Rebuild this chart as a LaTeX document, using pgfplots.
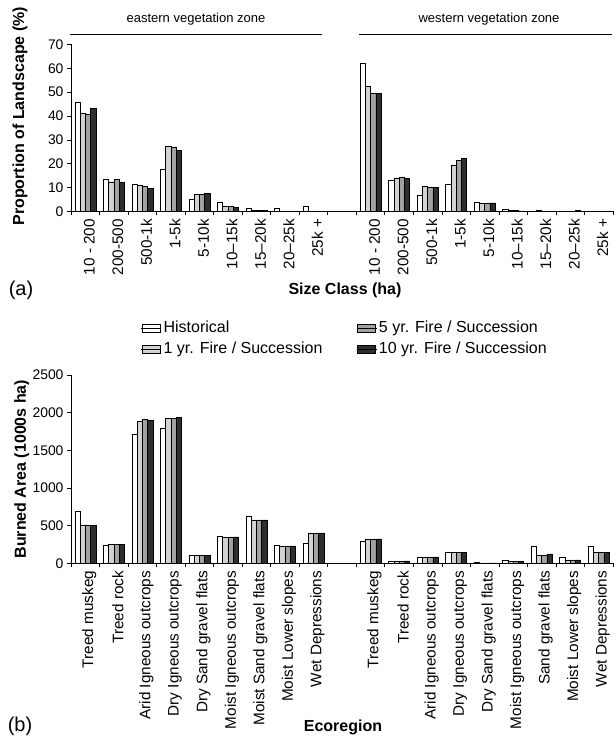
\documentclass[border=0pt]{standalone}
\usepackage{pgfplots}
\pgfplotsset{compat=1.18}
\usepackage{fontspec}
\setmainfont{Liberation Sans}
\definecolor{cone}{HTML}{D2D2D2}
\definecolor{cfive}{HTML}{A2A2A2}
\definecolor{cten}{HTML}{2E2E2E}
\begin{document}
\begin{tikzpicture}[x=1pt,y=1pt]
\useasboundingbox (0,0) rectangle (615,738);
\pgfplotsset{
  base/.style={
    scale only axis, width=542pt,
    xmin=-0.5, xmax=18.5, ymin=0,
    axis lines*=left, tick align=outside,
    major tick length=4pt, minor tick length=4pt,
    axis line style={line width=0.6pt},
    tick style={line width=0.6pt, black},
    ybar=0pt, bar width=5.25pt,
    xtick={0,1,2,3,4,5,6,7,8,10,11,12,13,14,15,16,17,18},
    minor xtick={-0.5,0.5,...,18.5},
    major x tick style={draw=none},
    /pgf/number format/assume math mode=true,
    /pgf/number format/1000 sep={},
    yticklabel style={font=\fontsize{13.9}{15}\selectfont},
    xticklabel style={rotate=90, anchor=east, yshift=-4pt, font=\fontsize{15.3}{17}\selectfont},
    ylabel style={font=\fontsize{16}{18}\selectfont\bfseries, anchor=center},
    legend image code/.code={\draw[#1, draw=black, line width=0.5pt] (0pt,-4pt) rectangle (18pt,4pt); \path (-1pt,0pt) -- (19pt,0pt);},
  },
  bH/.style={fill=white, draw=black, line width=0.5pt},
  b1/.style={fill=cone, draw=black, line width=0.5pt},
  b5/.style={fill=cfive, draw=black, line width=0.5pt},
  b10/.style={fill=cten, draw=black, line width=0.5pt},
}
% ---------- panel (a)
\begin{axis}[base,
  at={(71pt,526.5pt)}, anchor=south west, height=167pt,
  ymax=70, ytick={0,10,...,70},
  xticklabels={10 - 200,200-500,500-1k,1-5k,5-10k,10--15k,15--20k,20--25k,25k +,10 - 200,200-500,500-1k,1-5k,5-10k,10--15k,15--20k,20--25k,25k +},
  ylabel={Proportion of Landscape (\%)},
  ylabel style={at={(axis description cs:-0.094,0.57)}},
]
\addplot[bH] coordinates {(0,45.9)(1,13.6)(2,11.5)(3,17.8)(4,5.2)(5,3.9)(6,1.3)(7,1.3)(8,2.2)
 (10,62.1)(11,12.9)(12,7.0)(13,11.5)(14,3.9)(15,1.1)(16,0.2)(17,0.1)(18,0.0)};
\addplot[b1] coordinates {(0,41.0)(1,12.4)(2,11.2)(3,27.4)(4,7.1)(5,2.0)(6,0.6)(7,0.2)(8,0.2)
 (10,52.3)(11,14.0)(12,10.5)(13,19.4)(14,3.4)(15,0.6)(16,0.4)(17,0.2)(18,0.0)};
\addplot[b5] coordinates {(0,40.6)(1,13.6)(2,10.5)(3,27.1)(4,7.1)(5,2.2)(6,0.5)(7,0.2)(8,0.2)
 (10,49.5)(11,14.5)(12,10.1)(13,21.4)(14,3.6)(15,0.4)(16,0.1)(17,0.1)(18,0.0)};
\addplot[b10] coordinates {(0,43.2)(1,12.3)(2,9.8)(3,25.7)(4,7.6)(5,1.8)(6,0.6)(7,0.2)(8,0.2)
 (10,49.5)(11,13.8)(12,10.1)(13,22.4)(14,3.6)(15,0.3)(16,0.1)(17,0.4)(18,0.0)};
\end{axis}
% ---------- panel (b)
\begin{axis}[base,
  at={(71pt,174.7pt)}, anchor=south west, height=188.3pt,
  ymax=2500, ytick={0,500,...,2500},
  xticklabels={Treed muskeg,Treed rock,Arid Igneous outcrops,Dry Igneous outcrops,Dry Sand gravel flats,Moist Igneous outcrops,Moist Sand gravel flats,Moist Lower slopes,Wet Depressions,Treed muskeg,Treed rock,Arid Igneous outcrops,Dry Igneous outcrops,Dry Sand gravel flats,Moist Igneous outcrops,Sand gravel flats,Moist Lower slopes,Wet Depressions},
  ylabel={Burned Area (1000s ha)},
  ylabel style={at={(axis description cs:-0.091,0.5)}},
  legend style={at={(axis description cs:0.129,1.297)}, anchor=north west,
    draw=none, fill=none, inner sep=0pt, row sep=4pt,
    font=\fontsize{16}{18}\selectfont,
    /tikz/every even column/.append style={column sep=32pt}},
  legend columns=2, transpose legend, legend cell align=left,
]
\addplot[bH] coordinates {(0,688)(1,235)(2,1718)(3,1794)(4,107)(5,360)(6,630)(7,240)(8,266)
 (10,289)(11,31)(12,84)(13,147)(14,9)(15,44)(16,222)(17,80)(18,222)};
\addplot[b1] coordinates {(0,506)(1,249)(2,1887)(3,1923)(4,107)(5,351)(6,577)(7,231)(8,404)
 (10,324)(11,31)(12,84)(13,147)(14,5)(15,22)(16,107)(17,44)(18,147)};
\addplot[b5] coordinates {(0,506)(1,249)(2,1909)(3,1923)(4,107)(5,351)(6,577)(7,231)(8,404)
 (10,324)(11,31)(12,84)(13,147)(14,5)(15,22)(16,107)(17,44)(18,147)};
\addplot[b10] coordinates {(0,506)(1,249)(2,1896)(3,1940)(4,107)(5,351)(6,577)(7,231)(8,404)
 (10,324)(11,31)(12,84)(13,147)(14,5)(15,22)(16,124)(17,44)(18,147)};
\legend{Historical,1 yr. Fire / Succession,5 yr. Fire / Succession,10 yr. Fire / Succession}
\end{axis}
% ---------- annotations
\draw[line width=0.8pt] (70,704) -- (322,704);
\draw[line width=0.8pt] (359,704) -- (612,704);
\node[font=\fontsize{13}{15}\selectfont] at (196,719) {eastern vegetation zone};
\node[font=\fontsize{13}{15}\selectfont] at (489,719) {western vegetation zone};
\node[font=\fontsize{20}{22}\selectfont] at (21,448) {(a)};
\node[font=\fontsize{16}{18}\selectfont\bfseries] at (345,448) {Size Class (ha)};
\node[font=\fontsize{20}{22}\selectfont] at (20,12) {(b)};
\node[font=\fontsize{16}{18}\selectfont\bfseries] at (343,11) {Ecoregion};
\end{tikzpicture}
\end{document}
